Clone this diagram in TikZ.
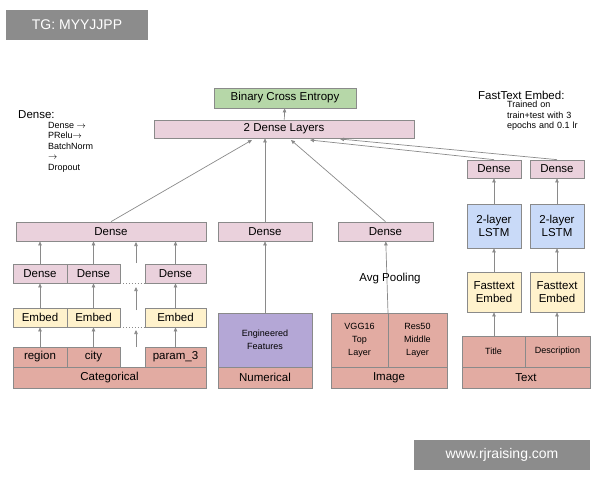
\documentclass[tikz,border=0pt]{standalone}
\usepackage{fontspec}
\setmainfont{Liberation Sans}
\usetikzlibrary{arrows.meta}
\definecolor{pk}{HTML}{EAD1DC}
\definecolor{yl}{HTML}{FFF2CC}
\definecolor{bl}{HTML}{C9DAF8}
\definecolor{sa}{HTML}{E2ABA2}
\definecolor{gr}{HTML}{B6D7A8}
\definecolor{pu}{HTML}{B4A7D6}
\definecolor{ln}{HTML}{8A8A8A}
\begin{document}
\begin{tikzpicture}[x=1pt,y=-1pt,
  bx/.style={draw=ln,line width=0.7pt,inner sep=0pt,font=\fontsize{11.5}{13}\selectfont,align=center},
  sm/.style={font=\fontsize{9}{10.5}\selectfont},
  ar/.style={draw=ln,line width=0.7pt,-{Triangle[length=4pt,width=3.5pt]}},
  dt/.style={draw=ln,line width=0.9pt,dotted},
  wm/.style={fill=black!45,text=white,inner sep=0pt,font=\fontsize{14}{16}\selectfont}]
\useasboundingbox (0,0) rectangle (600,480);
\newcommand\bxx[6]{\node[bx,fill=#5,minimum width=#3-#1,minimum height=#4-#2] (#6) at ({(#1+#3)/2},{(#2+#4)/2})}
% top
\bxx{214}{88}{356}{108}{gr}{bce} {Binary Cross Entropy};
\bxx{154}{120}{414}{138}{pk}{dl} {2 Dense Layers};
% categorical
\bxx{16}{222}{206}{241}{pk}{cd} {Dense};
\bxx{13}{264}{67}{283}{pk}{d1} {Dense};
\bxx{67}{264}{120}{283}{pk}{d2} {Dense};
\bxx{145}{264}{206}{283}{pk}{d3} {Dense};
\bxx{13}{308}{67}{327}{yl}{e1} {Embed};
\bxx{67}{308}{120}{327}{yl}{e2} {Embed};
\bxx{145}{308}{206}{327}{yl}{e3} {Embed};
\bxx{13}{347}{67}{367}{sa}{c1} {region};
\bxx{67}{347}{120}{367}{sa}{c2} {city};
\bxx{145}{347}{206}{367}{sa}{c3} {param\_3};
\bxx{13}{367}{206}{388}{sa}{cat} {Categorical};
\draw[dt] (d2.south east) -- (d3.south west);
\draw[dt] (e2.south east) -- (e3.south west);
\draw[dt] (c2.south east) -- (c3.south west);
\coordinate (m1) at (136,347); \coordinate (m2) at (136,330);
\coordinate (m3) at (136,310); \coordinate (m4) at (136,287);
\coordinate (m5) at (136,263); \coordinate (m6) at (136,242);
\draw[ar] (m1) -- (m2); \draw[ar] (m3) -- (m4); \draw[ar] (m5) -- (m6);
\foreach \i in {1,2,3}{
  \draw[ar] (c\i) -- (e\i);
  \draw[ar] (e\i) -- (d\i);
  \draw[ar] (d\i.north) -- (d\i.north |- cd.south);}
% numerical
\bxx{218}{222}{312}{241}{pk}{nd} {Dense};
\bxx{218}{313}{312}{367}{pu}{ef} {\fontsize{9}{12}\selectfont Engineered\\\fontsize{9}{12}\selectfont Features};
\bxx{218}{367}{312}{388}{sa}{num} {Numerical};
\draw[ar] (ef) -- (nd);
% image
\bxx{338}{222}{433}{241}{pk}{id} {Dense};
\bxx{331}{313}{388}{367}{sa}{vgg} {\fontsize{9}{12}\selectfont VGG16\\\fontsize{9}{12}\selectfont Top\\\fontsize{9}{12}\selectfont Layer};
\bxx{388}{313}{447}{367}{sa}{res} {\fontsize{9}{12}\selectfont Res50\\\fontsize{9}{12}\selectfont Middle\\\fontsize{9}{12}\selectfont Layer};
\bxx{331}{367}{447}{388}{sa}{img} {Image};
\coordinate (ib) at (388,313);
\draw[ar] (ib) -- (id);
\node[font=\fontsize{11.5}{13}\selectfont,inner sep=0pt] (avg) at (390,279) {Avg Pooling};
% text
\bxx{467}{160}{521}{178}{pk}{t1} {Dense};
\bxx{530}{160}{584}{178}{pk}{t2} {Dense};
\bxx{467}{204}{521}{248}{bl}{l1} {2-layer\\LSTM};
\bxx{530}{204}{584}{248}{bl}{l2} {2-layer\\LSTM};
\bxx{467}{272}{521}{312}{yl}{f1} {Fasttext\\Embed};
\bxx{530}{272}{584}{312}{yl}{f2} {Fasttext\\Embed};
\bxx{462}{336}{525}{367}{sa}{ti} {\fontsize{9}{10}\selectfont Title};
\bxx{525}{336}{590}{367}{sa}{de} {\fontsize{9}{10}\selectfont Description};
\bxx{462}{367}{590}{388}{sa}{txt} {Text};
\draw[ar] (f1.south |- ti.north) -- (f1); \draw[ar] (f2.south |- de.north) -- (f2);
\draw[ar] (f1) -- (l1); \draw[ar] (f2) -- (l2);
\draw[ar] (l1) -- (t1); \draw[ar] (l2) -- (t2);
% to top
\coordinate (a1) at (252,140); \coordinate (a2) at (291,140);
\coordinate (a3) at (310,140); \coordinate (a4) at (340,139);
\draw[ar] (cd.north) -- (a1);
\draw[ar] (nd.north) -- (nd.north |- dl.south);
\draw[ar] (id.north) -- (a2);
\draw[ar] (t1.north) -- (a3);
\draw[ar] (t2.north) -- (a4);
\draw[ar] (dl) -- (bce);
% notes
\node[anchor=west,inner sep=0pt,font=\fontsize{11.5}{13}\selectfont] (n1) at (18,115) {Dense:};
\node[anchor=north west,inner sep=0pt,align=left,sm] (n2) at (48,122) {Dense $\rightarrow$\\PRelu$\rightarrow$\\BatchNorm\\$\rightarrow$\\Dropout};
\node[anchor=west,inner sep=0pt,font=\fontsize{11.5}{13}\selectfont] (n3) at (478,95) {FastText Embed:};
\node[anchor=north west,inner sep=0pt,align=left,sm,text width=85] (n4) at (507,101) {Trained on\\train+test with 3\\epochs and 0.1 lr};
% watermarks
\node[wm,minimum width=142,minimum height=30] (w1) at (77,25) {TG: MYYJJPP};
\node[wm,minimum width=176,minimum height=30] (w2) at (502,455) {www.rjraising.com};
\end{tikzpicture}
\end{document}
